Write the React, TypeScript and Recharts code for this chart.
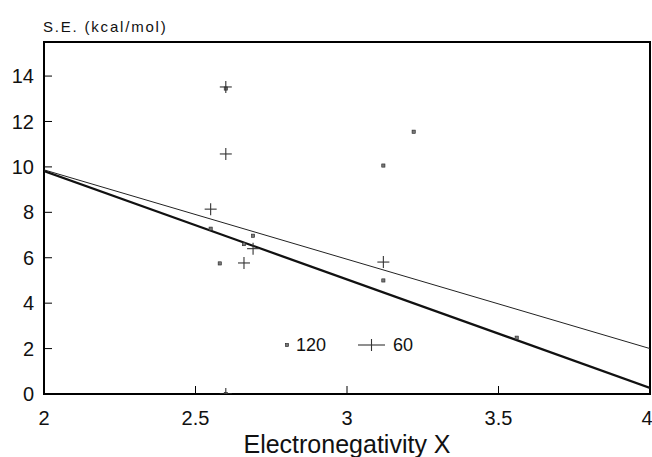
import React from 'react';
import { ScatterChart, Scatter, XAxis, YAxis, ReferenceArea, Legend } from 'recharts';

const series120 = [
  { x: 2.6, y: 13.45 },
  { x: 3.22, y: 11.55 },
  { x: 3.12, y: 10.06 },
  { x: 2.55, y: 7.28 },
  { x: 2.69, y: 6.97 },
  { x: 2.66, y: 6.6 },
  { x: 2.58, y: 5.75 },
  { x: 3.12, y: 5.0 },
  { x: 3.56, y: 2.48 },
  { x: 2.6, y: 0 },
];
const series60 = [
  { x: 2.6, y: 13.52 },
  { x: 2.6, y: 10.57 },
  { x: 2.55, y: 8.14 },
  { x: 2.69, y: 6.4 },
  { x: 2.66, y: 5.77 },
  { x: 3.12, y: 5.81 },
  { x: 2.6, y: 0 },
];
const fit120 = [
  { x: 2, y: 9.82 },
  { x: 4, y: 0.27 },
];
const fit60 = [
  { x: 2, y: 9.87 },
  { x: 4, y: 2.0 },
];
const xTicks = [2, 2.5, 3, 3.5, 4];
const yTicks = [0, 2, 4, 6, 8, 10, 12, 14];
const xDomain = [2, 4];
const yDomain = [0, 15.5];

const FONT = '"Liberation Sans", Arial, Helvetica, sans-serif';

const PlusShape = (p: any) => {
  const { cx, cy } = p;
  if (cx == null || cy == null) return <g />;
  return (
    <g>
      <line x1={cx - 6} x2={cx + 6} y1={cy} y2={cy} stroke="#333" strokeWidth={1.1} />
      <line x1={cx} x2={cx} y1={cy - 6} y2={cy + 6} stroke="#333" strokeWidth={1.1} />
    </g>
  );
};

const SquareShape = (p: any) => {
  const { cx, cy } = p;
  if (cx == null || cy == null) return <g />;
  return <rect x={cx - 1.6} y={cy - 1.6} width={3.2} height={3.2} fill="#777" stroke="#222" strokeWidth={0.6} />;
};

const NoShape = () => <g />;

const LegendContent = () => (
  <div style={{ display: 'flex', alignItems: 'center', fontFamily: FONT, fontSize: 18, color: '#111', height: 22 }}>
    <svg width={8} height={22}>
      <rect x={2.4} y={9.4} width={3.2} height={3.2} fill="#777" stroke="#222" strokeWidth={0.6} />
    </svg>
    <span style={{ marginLeft: 5 }}>120</span>
    <svg width={27} height={22} style={{ marginLeft: 32 }}>
      <line x1={0} x2={27} y1={11} y2={11} stroke="#333" strokeWidth={1.1} />
      <line x1={13.5} x2={13.5} y1={5} y2={17} stroke="#333" strokeWidth={1.1} />
    </svg>
    <span style={{ marginLeft: 8 }}>60</span>
  </div>
);

const YTitle = (props: any) => {
  const vb = props.viewBox || { x: 0, y: 42, width: 44 };
  return (
    <text
      x={vb.x + vb.width - 1}
      y={vb.y - 10}
      fontFamily={FONT}
      fontSize={15}
      letterSpacing={1.8}
      fill="#111"
      textAnchor="start"
    >
      S.E. (kcal/mol)
    </text>
  );
};

export default function App() {
  return (
    <div style={{ position: 'absolute', left: 0, top: 0, width: 652, height: 457, background: '#fff' }}>
      <ScatterChart width={652} height={457} margin={{ top: 42, right: 2, bottom: 0, left: 0 }}>
        <XAxis
          type="number"
          dataKey="x"
          domain={xDomain}
          ticks={xTicks}
          allowDataOverflow
          height={63}
          tickSize={-8}
          tickMargin={25}
          axisLine={{ stroke: '#000', strokeWidth: 2 }}
          tickLine={{ stroke: '#000', strokeWidth: 1 }}
          tick={{ fill: '#111', fontSize: 20, fontFamily: FONT }}
          label={{
            value: 'Electronegativity X',
            position: 'insideBottom',
            offset: 4,
            fill: '#111',
            fontSize: 25,
            fontFamily: FONT,
          }}
        />
        <YAxis
          type="number"
          dataKey="y"
          domain={yDomain}
          ticks={yTicks}
          allowDataOverflow
          width={44}
          tickSize={-8}
          tickMargin={18}
          axisLine={{ stroke: '#000', strokeWidth: 2 }}
          tickLine={{ stroke: '#000', strokeWidth: 1 }}
          tick={{ fill: '#111', fontSize: 20, fontFamily: FONT }}
          label={{ content: YTitle }}
        />
        <ReferenceArea x1={2} x2={4} y1={0} y2={15.5} fill="none" stroke="#000" strokeWidth={2} />
        <Scatter data={fit60} line={{ stroke: '#222', strokeWidth: 1 }} shape={NoShape} isAnimationActive={false} legendType="none" />
        <Scatter data={fit120} line={{ stroke: '#111', strokeWidth: 2.3 }} shape={NoShape} isAnimationActive={false} legendType="none" />
        <Scatter name="120" data={series120} shape={SquareShape} isAnimationActive={false} />
        <Scatter name="60" data={series60} shape={PlusShape} isAnimationActive={false} />
        <Legend
          layout="vertical"
          align="center"
          verticalAlign="middle"
          content={LegendContent}
          wrapperStyle={{ position: 'absolute', left: 283, top: 334, width: 160, height: 22, margin: 0, padding: 0 }}
        />
      </ScatterChart>
    </div>
  );
}
